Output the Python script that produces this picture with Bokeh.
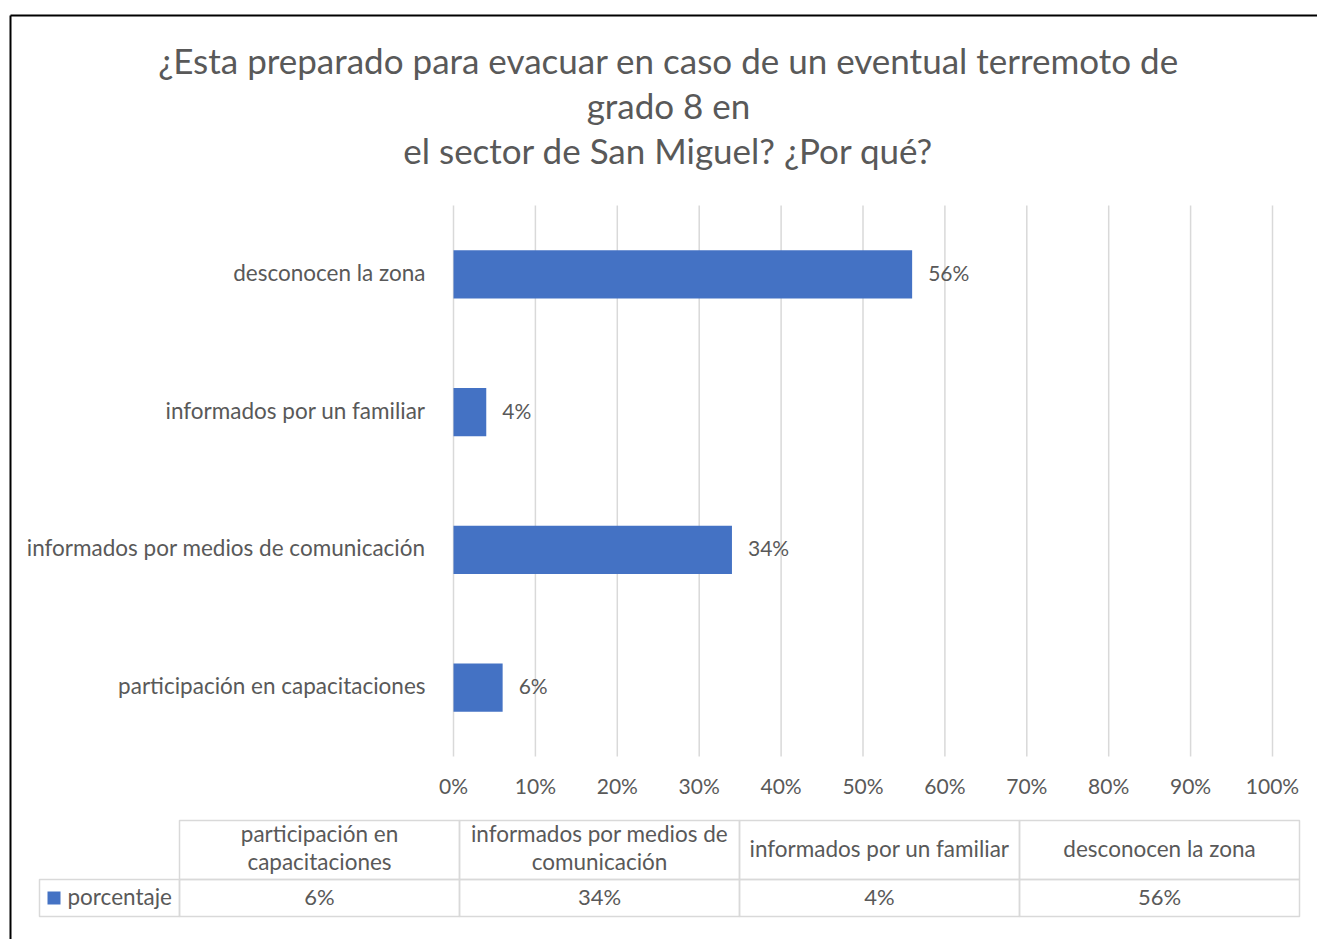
from bokeh.plotting import figure
from bokeh.models import Range1d, ColumnDataSource
from bokeh.embed import file_html
from bokeh.resources import INLINE
from bokeh.core.properties import value

# ---------------- data ----------------
title_lines = [
    "¿Esta preparado para evacuar en caso de un eventual terremoto de",
    "grado 8 en",
    "el sector de San Miguel? ¿Por qué?",
]
categories = [
    "participación en capacitaciones",
    "informados por medios de comunicación",
    "informados por un familiar",
    "desconocen la zona",
]
porcentaje = [0.06, 0.34, 0.04, 0.56]
value_labels = ["6%", "34%", "4%", "56%"]
series_name = "porcentaje"
x_ticks = [0.0, 0.1, 0.2, 0.3, 0.4, 0.5, 0.6, 0.7, 0.8, 0.9, 1.0]
tick_labels = ["0%", "10%", "20%", "30%", "40%", "50%", "60%", "70%", "80%", "90%", "100%"]
table_headers = [
    ["participación en", "capacitaciones"],
    ["informados por medios de", "comunicación"],
    ["informados por un familiar"],
    ["desconocen la zona"],
]

# ---------------- style / layout ----------------
FONT = value("Lato")
TXT = "#595959"
BAR = "#4472C4"
GRID = "#D9D9D9"

W, H = 1317, 939
X0, X1 = 453, 1272          # pixel of 0% and 100%
Y_TOP, Y_BOT = 205, 756     # plot area vertical extent
n = len(categories)
band = (Y_BOT - Y_TOP) / n

p = figure(width=W, height=H, x_range=Range1d(0, W), y_range=Range1d(H, 0),
           x_axis_type=None, y_axis_type=None, min_border=0,
           output_backend="svg", toolbar_location=None)
p.outline_line_color = None
p.background_fill_color = "white"
p.xgrid.visible = False
p.ygrid.visible = False

# chart scales
p.extra_x_ranges = {"pct": Range1d(-X0 / (X1 - X0), (W - X0) / (X1 - X0))}
p.extra_y_ranges = {"cat": Range1d(-(H - Y_BOT) / band, n + Y_TOP / band)}
cat_y = [i + 0.5 for i in range(n)]

# vertical gridlines
p.segment(x0=x_ticks, x1=x_ticks, y0=[0] * len(x_ticks), y1=[n] * len(x_ticks),
          x_range_name="pct", y_range_name="cat", line_color=GRID, line_width=1.5)

# bars
src = ColumnDataSource(dict(y=cat_y, val=porcentaje, lab=value_labels, cat=categories,
                            zero=[0] * n))
p.hbar(y="y", left="zero", right="val", height=0.35, source=src, fill_color=BAR,
       line_color=None, x_range_name="pct", y_range_name="cat")
# data labels
p.text(x="val", y="y", text="lab", source=src, x_offset=16, y_offset=-2,
       text_baseline="middle", text_font=FONT, text_font_size="21px", text_color=TXT,
       x_range_name="pct", y_range_name="cat")
# category axis labels
p.text(x="zero", y="y", text="cat", source=src, x_offset=-28, y_offset=-2,
       text_align="right", text_baseline="middle", text_font=FONT,
       text_font_size="22.5px", text_color=TXT,
       x_range_name="pct", y_range_name="cat")
# x tick labels
p.text(x=x_ticks, y=[785] * len(x_ticks), text=tick_labels, text_align="center",
       text_baseline="middle", text_font=FONT, text_font_size="21px", text_color=TXT,
       x_range_name="pct")

# title
p.text(x=[668] * len(title_lines), y=[59 + 45 * i for i in range(len(title_lines))],
       text=title_lines, text_align="center", text_baseline="middle",
       text_font=FONT, text_font_size="35px", text_color=TXT)

# outer border
p.segment(x0=[10, 10], y0=[15, 15], x1=[W + 5, 10], y1=[15, H + 5],
          line_color="black", line_width=2)

# data table
TBL_L, COL_W, LEG_L = 179, 280, 39
ROW_T, ROW_M, ROW_B = 820, 879, 916
edges = [TBL_L + COL_W * i for i in range(n + 1)]
p.quad(left=edges[:-1], right=edges[1:], top=[ROW_T] * n, bottom=[ROW_M] * n,
       fill_color=None, line_color=GRID, line_width=1.5)
p.quad(left=[LEG_L] + edges[:-1], right=edges, top=[ROW_M] * (n + 1),
       bottom=[ROW_B] * (n + 1), fill_color=None, line_color=GRID, line_width=1.5)

hx, hy, ht = [], [], []
for i, lines in enumerate(table_headers):
    cx = (edges[i] + edges[i + 1]) / 2
    if len(lines) == 1:
        hx.append(cx); hy.append(848); ht.append(lines[0])
    else:
        for j, ln in enumerate(lines):
            hx.append(cx); hy.append(833 + 28 * j); ht.append(ln)
p.text(x=hx, y=hy, text=ht, text_align="center", text_baseline="middle",
       text_font=FONT, text_font_size="22.5px", text_color=TXT)
p.text(x=[(edges[i] + edges[i + 1]) / 2 for i in range(n)], y=[896] * n, text=value_labels,
       text_align="center", text_baseline="middle", text_font=FONT,
       text_font_size="22px", text_color=TXT)
# legend key
p.quad(left=[47], right=[60], top=[891], bottom=[904], fill_color=BAR, line_color=None)
p.text(x=[67], y=[896], text=[series_name], text_align="left", text_baseline="middle",
       text_font=FONT, text_font_size="22.5px", text_color=TXT)

open("out.html", "w").write(file_html(p, INLINE))
